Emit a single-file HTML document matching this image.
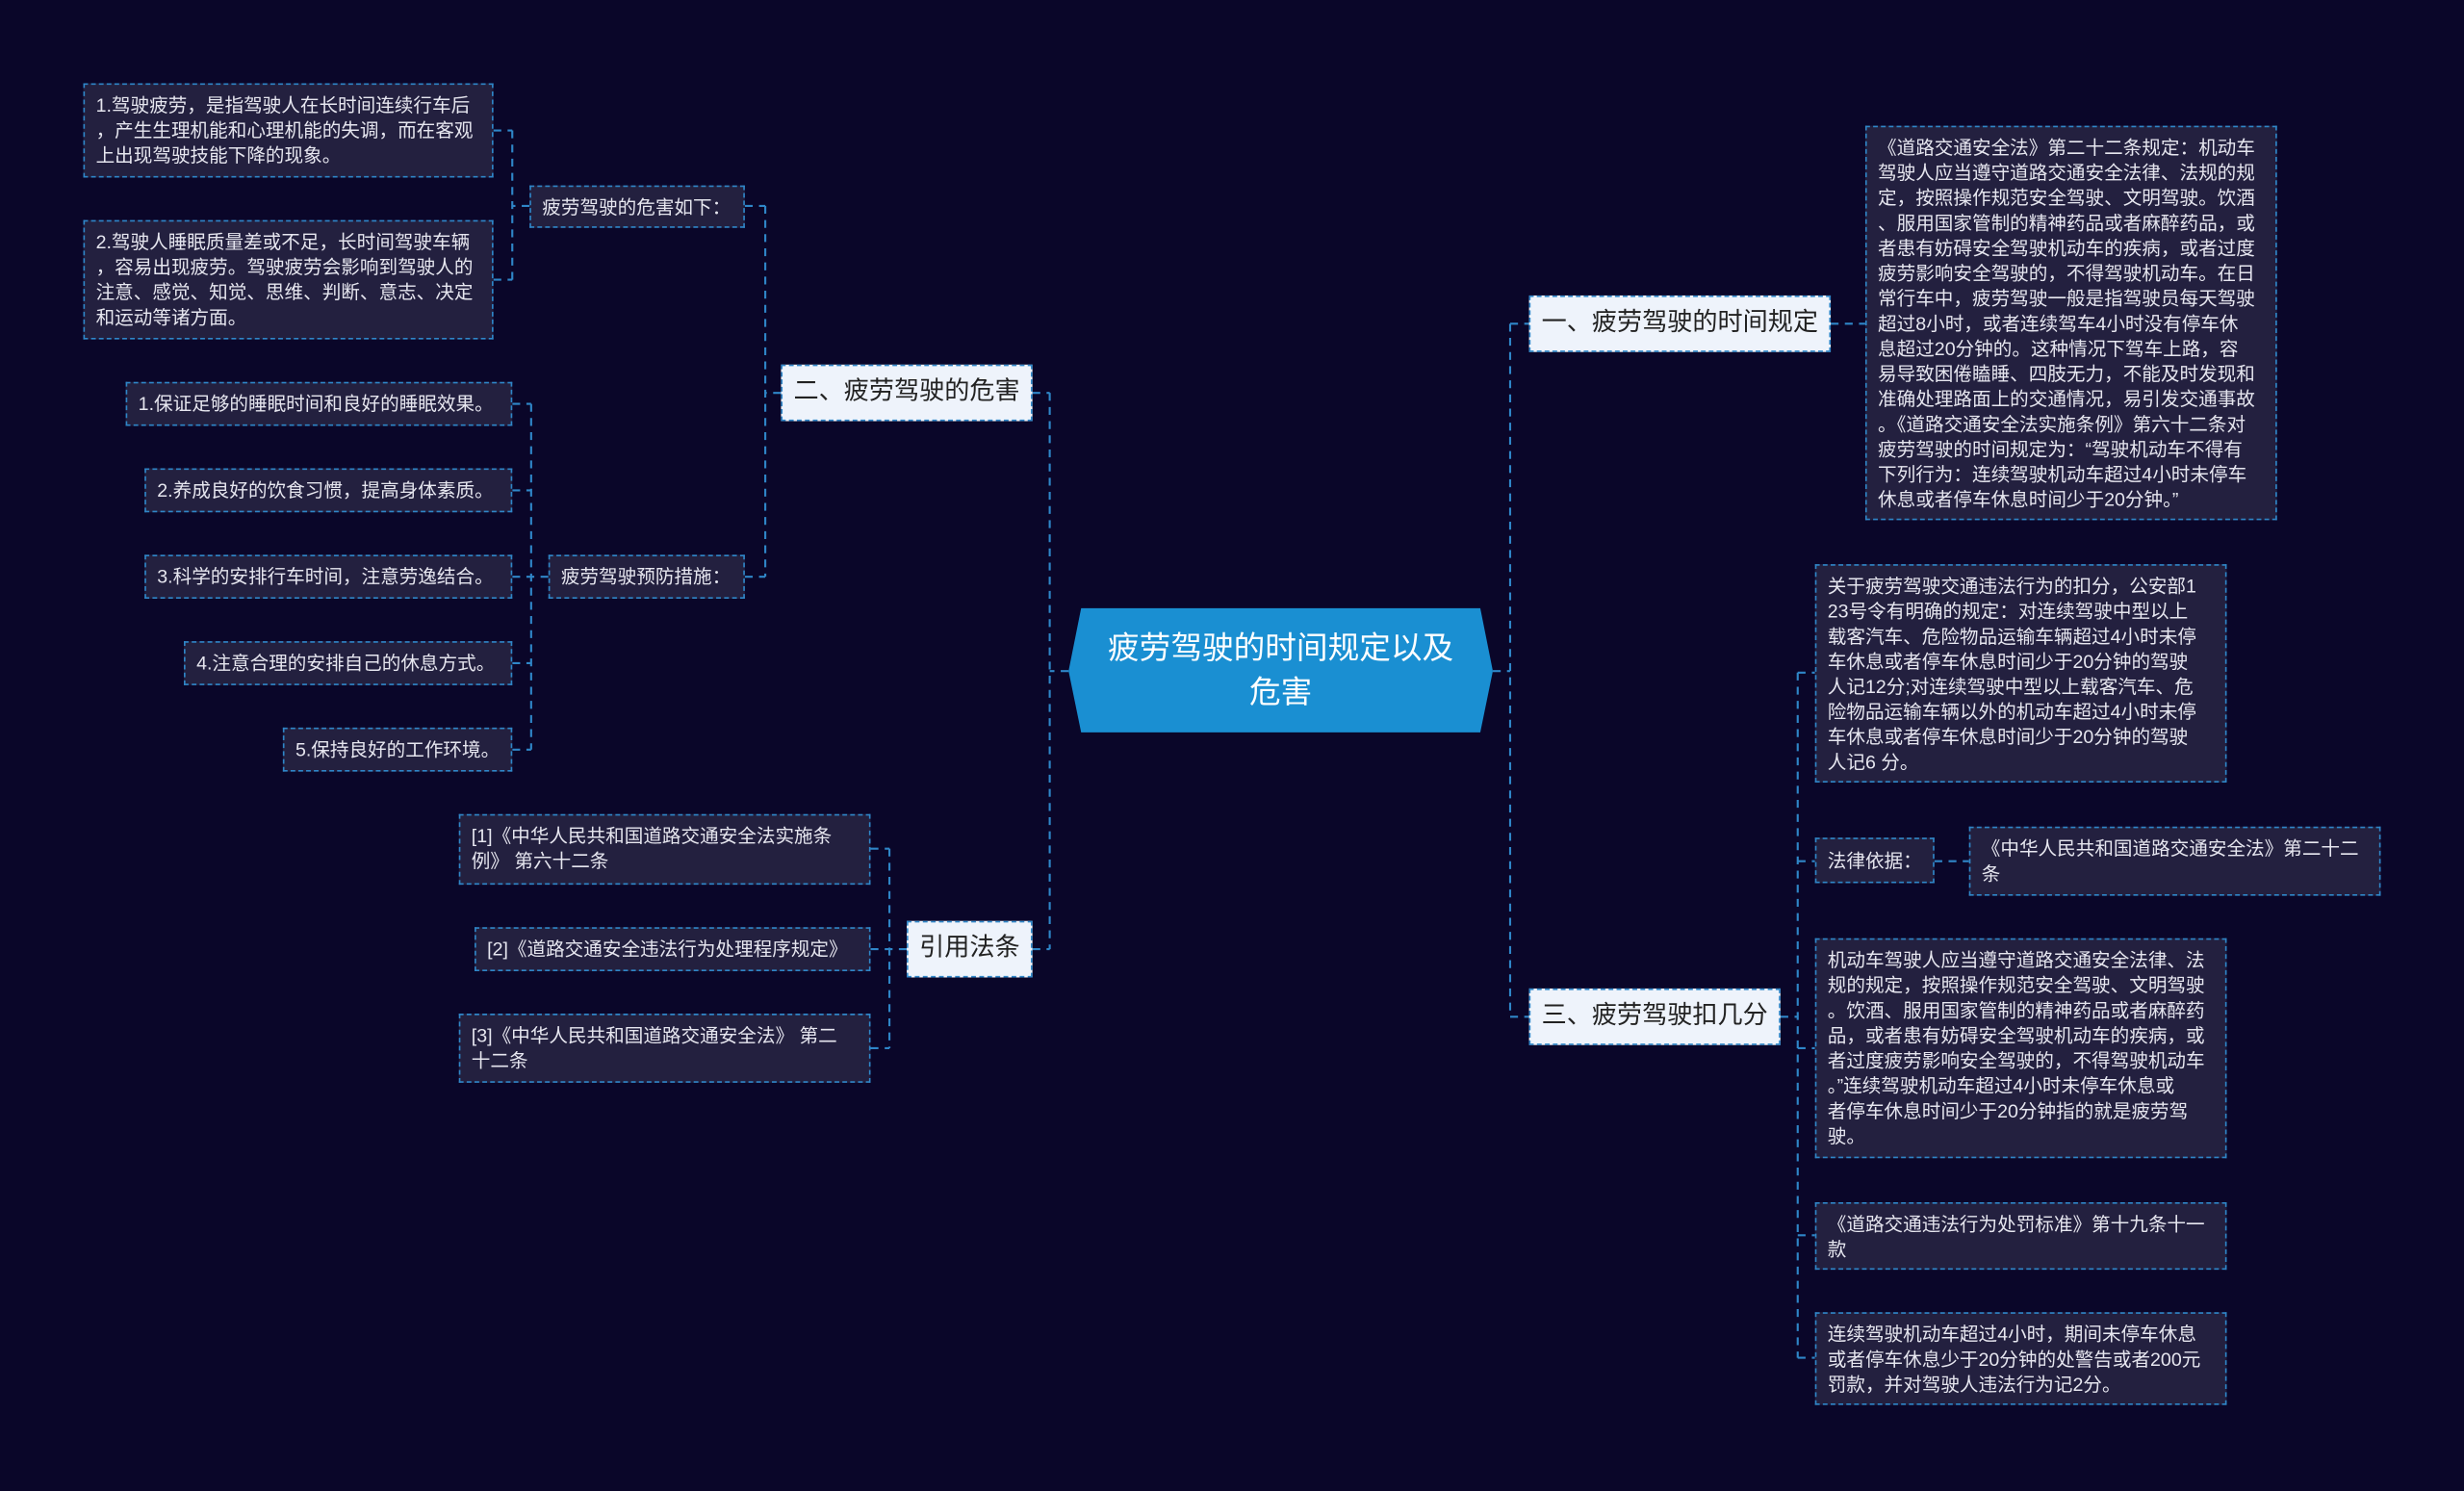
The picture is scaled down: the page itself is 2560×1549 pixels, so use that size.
<!DOCTYPE html>
<html><head><meta charset="utf-8"><style>
html,body{margin:0;padding:0;background:#0a0629;width:2560px;height:1549px;overflow:hidden}
#w{position:absolute;left:0;top:0;width:1568px;height:949px;transform:scale(1.63265);transform-origin:0 0;font-family:"Liberation Sans","Noto Sans CJK SC",sans-serif}
.b{position:absolute;box-sizing:border-box;border:1px dashed #2f86c8;background:#23203f;color:#e6e6ef;font-size:12px;line-height:16px;padding:5px 6px 5px 7px;white-space:nowrap}
.m{position:absolute;box-sizing:border-box;border:1px dashed #2f86c8;background:#eef3fb;color:#222;font-size:16px;line-height:34px;text-align:center;white-space:nowrap}
.c{display:flex;align-items:center}
svg{position:absolute;left:0;top:0}
</style></head><body><div id="w">
<svg width="1568" height="949"><g stroke="#2f86c8" stroke-width="1.3" fill="none" stroke-dasharray="5,4">
<path d="M680 427H668M668 250V604M657 250H668M657 604H668"/>
<path d="M950 427H961M961 206V647M961 206H973M961 647H973"/>
<path d="M497 250H487M487 131V367M474 131H487M474 367H487"/>
<path d="M337 131H326M326 83V178M314 83H326M314 178H326"/>
<path d="M349 367H338M338 257V477M326 257H338M326 312H338M326 367H338M326 422H338M326 477H338"/>
<path d="M577 604H566M566 540V667M554 540H566M554 604H566M554 667H566"/>
<path d="M1165 206H1187"/>
<path d="M1133 647H1144M1144 428V864M1144 428H1155M1144 548H1155M1144 667H1155M1144 786H1155M1144 864H1155"/>
<path d="M1231 548H1253"/>
</g>
<polygon points="688,387 942,387 950,427 942,466 688,466 680,427" fill="#1a8fd2"/>
</svg>
<div style="position:absolute;left:680px;top:399px;width:270px;text-align:center;color:#fff;font-size:20px;line-height:28px;white-space:nowrap">疲劳驾驶的时间规定以及<br>危害</div>
<div class="m" style="left:497px;top:232px;width:160px;height:36px">二、疲劳驾驶的危害</div>
<div class="m" style="left:577px;top:586px;width:80px;height:36px">引用法条</div>
<div class="m" style="left:973px;top:188px;width:192px;height:36px">一、疲劳驾驶的时间规定</div>
<div class="m" style="left:973px;top:629px;width:160px;height:36px">三、疲劳驾驶扣几分</div>
<div class="b" style="left:53px;top:53px;width:261px;height:60px">1.驾驶疲劳，是指驾驶人在长时间连续行车后<br>，产生生理机能和心理机能的失调，而在客观<br>上出现驾驶技能下降的现象。</div>
<div class="b" style="left:53px;top:140px;width:261px;height:76px">2.驾驶人睡眠质量差或不足，长时间驾驶车辆<br>，容易出现疲劳。驾驶疲劳会影响到驾驶人的<br>注意、感觉、知觉、思维、判断、意志、决定<br>和运动等诸方面。</div>
<div class="b c" style="left:337px;top:118px;width:137px;height:27px">疲劳驾驶的危害如下：</div>
<div class="b c" style="left:349px;top:353px;width:125px;height:28px">疲劳驾驶预防措施：</div>
<div class="b c" style="left:80px;top:243px;width:246px;height:28px">1.保证足够的睡眠时间和良好的睡眠效果。</div>
<div class="b c" style="left:92px;top:298px;width:234px;height:28px">2.养成良好的饮食习惯，提高身体素质。</div>
<div class="b c" style="left:92px;top:353px;width:234px;height:28px">3.科学的安排行车时间，注意劳逸结合。</div>
<div class="b c" style="left:117px;top:408px;width:209px;height:28px">4.注意合理的安排自己的休息方式。</div>
<div class="b c" style="left:180px;top:463px;width:146px;height:28px">5.保持良好的工作环境。</div>
<div class="b" style="left:292px;top:518px;width:262px;height:45px">[1]《中华人民共和国道路交通安全法实施条<br>例》 第六十二条</div>
<div class="b c" style="left:302px;top:590px;width:252px;height:28px">[2]《道路交通安全违法行为处理程序规定》</div>
<div class="b" style="left:292px;top:645px;width:262px;height:44px">[3]《中华人民共和国道路交通安全法》 第二<br>十二条</div>
<div class="b" style="left:1187px;top:80px;width:262px;height:251px">《道路交通安全法》第二十二条规定：机动车<br>驾驶人应当遵守道路交通安全法律、法规的规<br>定，按照操作规范安全驾驶、文明驾驶。饮酒<br>、服用国家管制的精神药品或者麻醉药品，或<br>者患有妨碍安全驾驶机动车的疾病，或者过度<br>疲劳影响安全驾驶的，不得驾驶机动车。在日<br>常行车中，疲劳驾驶一般是指驾驶员每天驾驶<br>超过8小时，或者连续驾车4小时没有停车休<br>息超过20分钟的。这种情况下驾车上路，容<br>易导致困倦瞌睡、四肢无力，不能及时发现和<br>准确处理路面上的交通情况，易引发交通事故<br>。《道路交通安全法实施条例》第六十二条对<br>疲劳驾驶的时间规定为：“驾驶机动车不得有<br>下列行为：连续驾驶机动车超过4小时未停车<br>休息或者停车休息时间少于20分钟。”</div>
<div class="b" style="left:1155px;top:359px;width:262px;height:139px">关于疲劳驾驶交通违法行为的扣分，公安部1<br>23号令有明确的规定：对连续驾驶中型以上<br>载客汽车、危险物品运输车辆超过4小时未停<br>车休息或者停车休息时间少于20分钟的驾驶<br>人记12分;对连续驾驶中型以上载客汽车、危<br>险物品运输车辆以外的机动车超过4小时未停<br>车休息或者停车休息时间少于20分钟的驾驶<br>人记6 分。</div>
<div class="b c" style="left:1155px;top:533px;width:76px;height:29px">法律依据：</div>
<div class="b" style="left:1253px;top:526px;width:262px;height:44px">《中华人民共和国道路交通安全法》第二十二<br>条</div>
<div class="b" style="left:1155px;top:597px;width:262px;height:140px">机动车驾驶人应当遵守道路交通安全法律、法<br>规的规定，按照操作规范安全驾驶、文明驾驶<br>。饮酒、服用国家管制的精神药品或者麻醉药<br>品，或者患有妨碍安全驾驶机动车的疾病，或<br>者过度疲劳影响安全驾驶的，不得驾驶机动车<br>。”连续驾驶机动车超过4小时未停车休息或<br>者停车休息时间少于20分钟指的就是疲劳驾<br>驶。</div>
<div class="b" style="left:1155px;top:765px;width:262px;height:43px">《道路交通违法行为处罚标准》第十九条十一<br>款</div>
<div class="b" style="left:1155px;top:835px;width:262px;height:59px">连续驾驶机动车超过4小时，期间未停车休息<br>或者停车休息少于20分钟的处警告或者200元<br>罚款，并对驾驶人违法行为记2分。</div>
</div></body></html>
